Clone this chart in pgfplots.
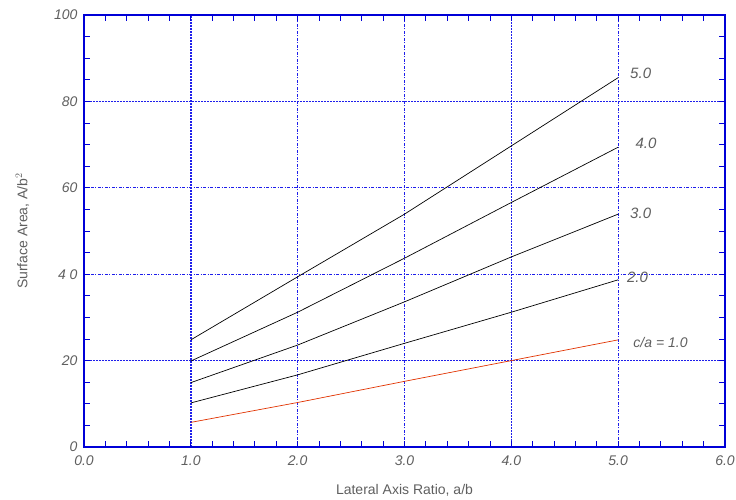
\documentclass[border=0pt]{standalone}
\usepackage{pgfplots}
\pgfplotsset{compat=1.18}
\usepackage{fontspec}
\setmainfont{Liberation Sans}
\definecolor{axblue}{RGB}{0,0,215}
\definecolor{gridblue}{RGB}{30,30,235}
\definecolor{txt}{RGB}{95,95,95}
\definecolor{redline}{RGB}{225,50,0}
\tikzset{
  thingrid/.style={draw=gridblue, line width=0.8pt, dash pattern=on 3pt off 1.5pt on 1pt off 1.5pt},
  thickgrid/.style={draw=gridblue, line width=1.4pt, dash pattern=on 2pt off 1pt},
}
\begin{document}
\begin{tikzpicture}
\path[use as bounding box] (-84pt,-53pt) rectangle (652pt,447pt);
\begin{axis}[
  scale only axis,
  width=641pt, height=432pt,
  xmin=0, xmax=6, ymin=0, ymax=100,
  xtick={0,1,2,3,4,5,6},
  xticklabels={0.0,1.0,2.0,3.0,4.0,5.0,6.0},
  ytick={0,20,40,60,80,100},
  yticklabels={0,20,4 0,60,80,100},
  minor x tick num=4,
  minor y tick num=3,
  tick align=inside,
  major tick length=6pt,
  minor tick length=6pt,
  every tick/.style={axblue, line width=0.9pt},
  axis line style={axblue, line width=2pt},
  ticklabel style={font=\fontsize{14}{16}\selectfont\itshape, text=txt},
  xticklabel style={yshift=-5pt},
  yticklabel style={xshift=-3pt},
  xlabel={Lateral Axis Ratio, a/b},
  ylabel={Surface Area, A/b$^{2}$},
  label style={font=\fontsize{14}{16}\selectfont, text=txt},
  xlabel style={yshift=-12pt},
  ylabel style={yshift=18pt},
  clip=false,
  axis on top,
]
\draw[thingrid] (axis cs:2,0) -- (axis cs:2,100);
\draw[thingrid] (axis cs:3,0) -- (axis cs:3,100);
\draw[thingrid] (axis cs:5,0) -- (axis cs:5,100);
\draw[thickgrid] (axis cs:1,0) -- (axis cs:1,100);
\draw[thickgrid] (axis cs:4,0) -- (axis cs:4,100);
\draw[thingrid] (axis cs:0,40) -- (axis cs:6,40);
\draw[thingrid] (axis cs:0,60) -- (axis cs:6,60);
\draw[thickgrid] (axis cs:0,20) -- (axis cs:6,20);
\draw[thickgrid] (axis cs:0,80) -- (axis cs:6,80);
\addplot[redline, line width=0.7pt] coordinates {(1,5.7) (2,10.3) (3,15.2) (4,20.0) (5,24.8)};
\addplot[black, line width=0.7pt] coordinates {(1,10.2) (2,16.7) (3,24.0) (4,31.2) (5,38.7)};
\addplot[black, line width=0.7pt] coordinates {(1,14.9) (2,23.6) (3,33.6) (4,44.0) (5,53.9)};
\addplot[black, line width=0.7pt] coordinates {(1,19.9) (2,31.2) (3,43.7) (4,56.6) (5,69.4)};
\addplot[black, line width=0.7pt] coordinates {(1,24.8) (2,39.4) (3,53.9) (4,69.7) (5,85.5)};
\node[anchor=west, text=txt, font=\fontsize{15}{17}\selectfont\itshape] at (axis cs:5.08,86.4) {5.0};
\node[anchor=west, text=txt, font=\fontsize{15}{17}\selectfont\itshape] at (axis cs:5.13,70.4) {4.0};
\node[anchor=west, text=txt, font=\fontsize{15}{17}\selectfont\itshape] at (axis cs:5.08,54.0) {3.0};
\node[anchor=west, text=txt, font=\fontsize{15}{17}\selectfont\itshape] at (axis cs:5.05,39.3) {2.0};
\node[anchor=west, text=txt, font=\fontsize{14}{16}\selectfont\itshape] at (axis cs:5.11,24.2) {c/a = 1.0};
\end{axis}
\end{tikzpicture}
\end{document}
